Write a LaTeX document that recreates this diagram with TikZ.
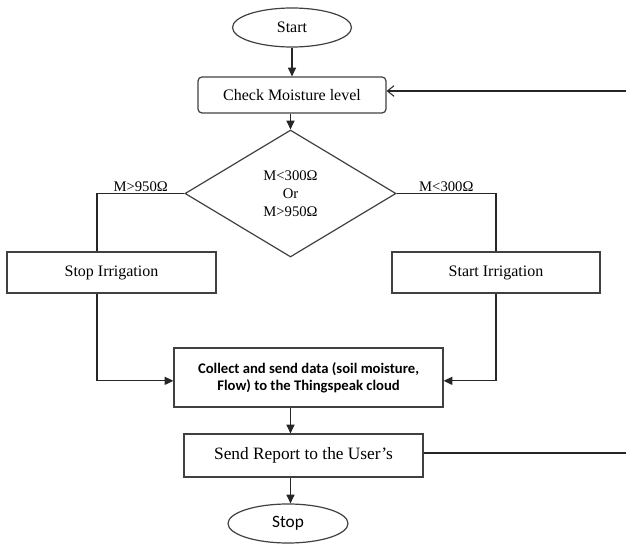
\documentclass[tikz,border=0pt]{standalone}
\usepackage{fontspec}
\setmainfont{Liberation Serif}
\newfontfamily\calibri{Carlito}
\usetikzlibrary{shapes.geometric,arrows.meta,positioning}

\tikzset{
    term/.style={ellipse, draw=black!75, line width=0.9pt, minimum width=89.25pt, minimum height=29.25pt, inner sep=0pt},
    proc/.style={rectangle, draw=black!75, line width=0.9pt, inner sep=0pt, align=center},
    decide/.style={diamond, draw=black!75, line width=0.9pt, minimum width=158.25pt, minimum height=95.25pt, inner sep=0pt, align=center},
    link/.style={draw=black!85, line width=0.8pt},
    arr/.style={link, -{Triangle[length=6.5pt,width=6pt]}},
    back/.style={link, -{Straight Barb[length=5pt,width=8pt]}},
    txt/.style={font=\fontsize{12pt}{14pt}\selectfont},
    small/.style={font=\fontsize{11pt}{13.5pt}\selectfont}
}

\begin{document}
\begin{tikzpicture}[x=0.75pt, y=-0.75pt]
    \useasboundingbox (0,0) rectangle (626,546);
    \node[term, txt] (start) at (292,27.5) {Start};
    \node[proc, txt, rounded corners=3pt, minimum width=141pt, minimum height=27pt] (check) at (292,95) {Check Moisture level};
    \node[decide, small] (cond) at (290.5,193.5) {M<300Ω\\Or\\M>950Ω};
    \node[proc, txt, minimum width=156.75pt, minimum height=30.75pt] (stopirr) at (111.5,272.5) {Stop Irrigation};
    \node[proc, txt, minimum width=156pt, minimum height=30.75pt] (startirr) at (496,272.5) {Start Irrigation};
    \node[proc, font=\calibri\bfseries\fontsize{11pt}{12.75pt}\selectfont, minimum width=201.75pt, minimum height=44.25pt] (collect) at (308.5,377.5) {Collect and send data (soil moisture,\\Flow) to the Thingspeak cloud};
    \node[proc, font=\fontsize{13pt}{15pt}\selectfont, minimum width=179.25pt, minimum height=32.25pt] (report) at (303.5,455.5) {Send Report to the User’s};
    \node[term, font=\calibri\fontsize{13pt}{15pt}\selectfont, minimum width=90pt] (stop) at (288,523.5) {Stop};
    \coordinate (lx) at (97,0);
    \coordinate (fbin) at (626,91);
    \coordinate (fbout) at (626,453);

    \draw[arr] (start) -- (check);
    \draw[arr] (check.south -| cond) -- (cond.north);
    \draw[link] (cond.west) -| node[small, above, pos=0.25, inner sep=1pt] {M>950Ω} (stopirr.north -| lx);
    \draw[link] (cond.east) -| node[small, above, pos=0.25, inner sep=1pt] {M<300Ω} (startirr.north);
    \draw[arr] (stopirr.south -| lx) |- ([yshift=-2.5]collect.west);
    \draw[arr] (startirr.south) |- ([yshift=-2.5]collect.east);
    \draw[arr] (collect.south -| cond) -- (report.north -| cond);
    \draw[arr] (report.south -| cond) -- (stop.north -| cond);
    \draw[link] (report.east |- fbout) -- (fbout);
    \draw[back] (fbin) -- (fbin -| check.east);
\end{tikzpicture}
\end{document}
